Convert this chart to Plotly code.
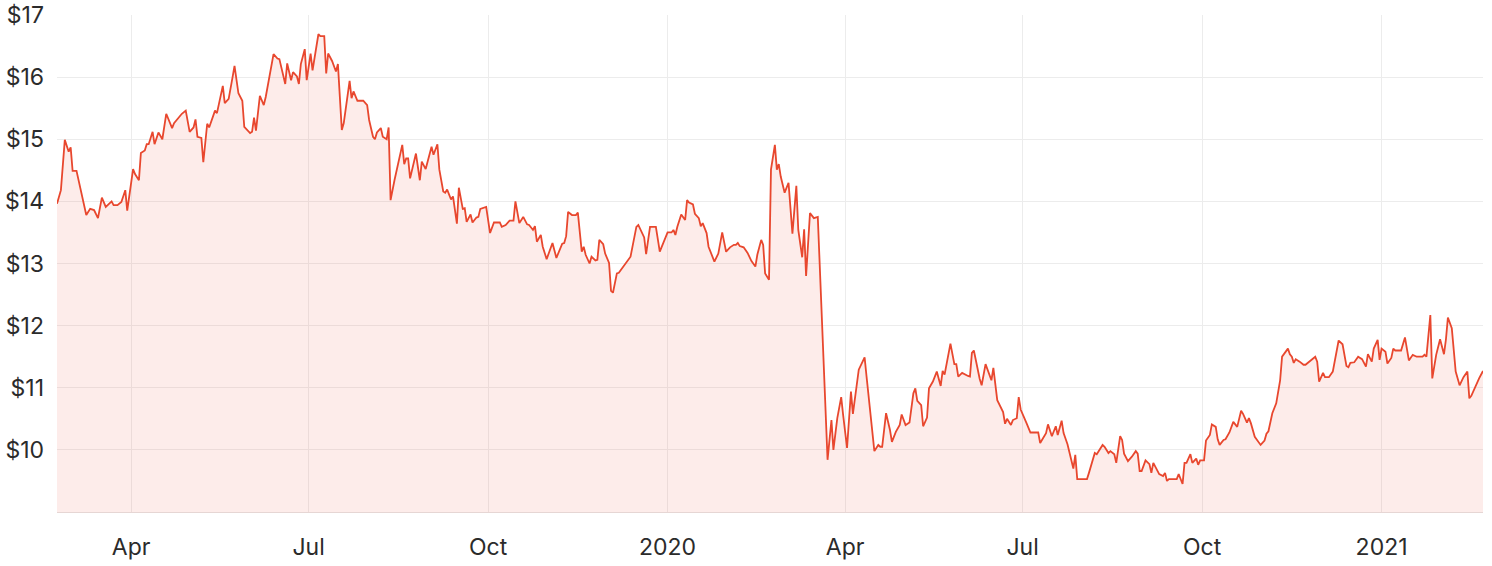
import plotly.graph_objects as go

dates = [
    "2019-02-22","2019-02-24","2019-02-26","2019-02-28","2019-03-01","2019-03-02","2019-03-04","2019-03-09","2019-03-11","2019-03-13",
    "2019-03-15","2019-03-17","2019-03-19","2019-03-22","2019-03-23","2019-03-25","2019-03-27","2019-03-29","2019-03-30","2019-04-02",
    "2019-04-03","2019-04-05","2019-04-06","2019-04-08","2019-04-09","2019-04-10","2019-04-12","2019-04-13","2019-04-15","2019-04-17",
    "2019-04-19","2019-04-22","2019-04-23","2019-04-27","2019-04-29","2019-05-01","2019-05-03","2019-05-04","2019-05-05","2019-05-07",
    "2019-05-08","2019-05-10","2019-05-11","2019-05-14","2019-05-15","2019-05-18","2019-05-19","2019-05-21","2019-05-23","2019-05-24",
    "2019-05-26","2019-05-28","2019-05-29","2019-06-01","2019-06-02","2019-06-03","2019-06-04","2019-06-06","2019-06-08","2019-06-09",
    "2019-06-13","2019-06-15","2019-06-16","2019-06-19","2019-06-20","2019-06-22","2019-06-23","2019-06-25","2019-06-26","2019-06-27",
    "2019-06-29","2019-06-30","2019-07-02","2019-07-03","2019-07-06","2019-07-07","2019-07-09","2019-07-10","2019-07-11","2019-07-13",
    "2019-07-15","2019-07-16","2019-07-18","2019-07-19","2019-07-22","2019-07-23","2019-07-24","2019-07-26","2019-07-29","2019-07-31",
    "2019-08-01","2019-08-03","2019-08-04","2019-08-05","2019-08-07","2019-08-08","2019-08-10","2019-08-11","2019-08-12","2019-08-14",
    "2019-08-18","2019-08-19","2019-08-20","2019-08-21","2019-08-22","2019-08-25","2019-08-27","2019-08-28","2019-08-30","2019-09-02",
    "2019-09-03","2019-09-05","2019-09-06","2019-09-08","2019-09-09","2019-09-10","2019-09-12","2019-09-13","2019-09-15","2019-09-16",
    "2019-09-18","2019-09-19","2019-09-20","2019-09-22","2019-09-23","2019-09-25","2019-09-26","2019-09-27","2019-09-30","2019-10-01",
    "2019-10-02","2019-10-04","2019-10-07","2019-10-08","2019-10-10","2019-10-12","2019-10-14","2019-10-15","2019-10-17","2019-10-19",
    "2019-10-21","2019-10-22","2019-10-24","2019-10-25","2019-10-26","2019-10-28","2019-10-29","2019-10-31","2019-11-03","2019-11-05",
    "2019-11-08","2019-11-09","2019-11-10","2019-11-11","2019-11-13","2019-11-15","2019-11-16","2019-11-18","2019-11-19","2019-11-20",
    "2019-11-22","2019-11-23","2019-11-25","2019-11-26","2019-11-27","2019-11-29","2019-11-30","2019-12-02","2019-12-03","2019-12-04",
    "2019-12-06","2019-12-07","2019-12-10","2019-12-13","2019-12-16","2019-12-17","2019-12-20","2019-12-21","2019-12-23","2019-12-26",
    "2019-12-28","2019-12-31","2020-01-01","2020-01-03","2020-01-04","2020-01-05","2020-01-06","2020-01-08","2020-01-10","2020-01-11",
    "2020-01-12","2020-01-14","2020-01-15","2020-01-17","2020-01-18","2020-01-19","2020-01-21","2020-01-22","2020-01-25","2020-01-27",
    "2020-01-29","2020-01-31","2020-02-02","2020-02-04","2020-02-05","2020-02-06","2020-02-07","2020-02-09","2020-02-11","2020-02-13",
    "2020-02-15","2020-02-16","2020-02-18","2020-02-19","2020-02-20","2020-02-22","2020-02-23","2020-02-25","2020-02-26","2020-02-27",
    "2020-02-28","2020-03-01","2020-03-03","2020-03-05","2020-03-07","2020-03-08","2020-03-10","2020-03-11","2020-03-12","2020-03-14",
    "2020-03-16","2020-03-18","2020-03-19","2020-03-20","2020-03-23","2020-03-25","2020-03-26","2020-03-28","2020-03-30","2020-03-31",
    "2020-04-02","2020-04-04","2020-04-05","2020-04-08","2020-04-11","2020-04-12","2020-04-16","2020-04-18","2020-04-19","2020-04-20",
    "2020-04-22","2020-04-24","2020-04-25","2020-04-27","2020-04-29","2020-04-30","2020-05-02","2020-05-04","2020-05-06","2020-05-07",
    "2020-05-08","2020-05-10","2020-05-11","2020-05-13","2020-05-14","2020-05-16","2020-05-18","2020-05-20","2020-05-21","2020-05-22",
    "2020-05-24","2020-05-25","2020-05-27","2020-05-28","2020-05-29","2020-05-31","2020-06-03","2020-06-04","2020-06-05","2020-06-06",
    "2020-06-09","2020-06-10","2020-06-12","2020-06-13","2020-06-15","2020-06-16","2020-06-18","2020-06-21","2020-06-22","2020-06-23",
    "2020-06-25","2020-06-26","2020-06-28","2020-06-29","2020-06-30","2020-07-03","2020-07-05","2020-07-09","2020-07-10","2020-07-13",
    "2020-07-14","2020-07-16","2020-07-18","2020-07-19","2020-07-21","2020-07-22","2020-07-24","2020-07-27","2020-07-28","2020-07-29",
    "2020-08-03","2020-08-04","2020-08-06","2020-08-07","2020-08-08","2020-08-11","2020-08-12","2020-08-14","2020-08-15","2020-08-17",
    "2020-08-18","2020-08-20","2020-08-21","2020-08-22","2020-08-24","2020-08-26","2020-08-28","2020-08-29","2020-08-30","2020-08-31",
    "2020-09-02","2020-09-04","2020-09-05","2020-09-06","2020-09-09","2020-09-11","2020-09-12","2020-09-13","2020-09-14","2020-09-18",
    "2020-09-19","2020-09-21","2020-09-22","2020-09-23","2020-09-25","2020-09-26","2020-09-28","2020-09-29","2020-09-30","2020-10-02",
    "2020-10-03","2020-10-05","2020-10-06","2020-10-08","2020-10-09","2020-10-10","2020-10-12","2020-10-13","2020-10-15","2020-10-17",
    "2020-10-19","2020-10-21","2020-10-22","2020-10-24","2020-10-25","2020-10-26","2020-10-28","2020-10-31","2020-11-02","2020-11-03",
    "2020-11-04","2020-11-06","2020-11-08","2020-11-09","2020-11-10","2020-11-11","2020-11-14","2020-11-15","2020-11-16","2020-11-17",
    "2020-11-18","2020-11-20","2020-11-22","2020-11-23","2020-11-26","2020-11-28","2020-11-29","2020-11-30","2020-12-02","2020-12-03",
    "2020-12-05","2020-12-07","2020-12-10","2020-12-12","2020-12-14","2020-12-15","2020-12-16","2020-12-18","2020-12-20","2020-12-22",
    "2020-12-24","2020-12-25","2020-12-27","2020-12-28","2020-12-30","2020-12-31","2021-01-01","2021-01-03","2021-01-04","2021-01-06",
    "2021-01-07","2021-01-08","2021-01-11","2021-01-13","2021-01-15","2021-01-17","2021-01-19","2021-01-22","2021-01-23","2021-01-24",
    "2021-01-26","2021-01-27","2021-01-29","2021-01-31","2021-02-02","2021-02-03","2021-02-04","2021-02-06","2021-02-08","2021-02-10",
    "2021-02-12","2021-02-14","2021-02-15","2021-02-16","2021-02-20","2021-02-22",
]

prices = [
    13.96,14.18,14.99,14.80,14.87,14.49,14.49,13.78,13.88,13.86,
    13.73,14.06,13.91,14.00,13.94,13.94,13.99,14.18,13.85,14.52,
    14.44,14.34,14.78,14.82,14.92,14.92,15.12,14.92,15.11,15.00,
    15.41,15.18,15.26,15.41,15.46,15.12,15.19,15.32,15.04,15.02,
    14.63,15.25,15.19,15.46,15.42,15.86,15.58,15.65,16.00,16.18,
    15.74,15.62,15.20,15.10,15.12,15.35,15.14,15.70,15.55,15.68,
    16.37,16.30,16.29,15.89,16.22,15.95,16.08,16.01,15.89,16.21,
    16.45,15.95,16.38,16.11,16.69,16.66,16.66,16.06,16.38,16.26,
    16.09,16.21,15.15,15.26,15.94,15.66,15.77,15.62,15.62,15.55,
    15.31,15.04,15.00,15.11,15.18,15.04,15.00,15.19,14.02,14.34,
    14.91,14.60,14.69,14.69,14.37,14.77,14.34,14.64,14.52,14.88,
    14.75,14.92,14.51,14.16,14.14,14.19,14.03,14.08,13.64,14.22,
    13.88,13.89,13.67,13.79,13.66,13.74,13.75,13.88,13.91,13.66,
    13.49,13.66,13.66,13.59,13.62,13.69,13.69,14.00,13.65,13.75,
    13.63,13.62,13.54,13.60,13.35,13.46,13.27,13.07,13.33,13.09,
    13.32,13.33,13.44,13.83,13.78,13.78,13.82,13.19,13.27,13.14,
    13.00,13.11,13.05,13.06,13.38,13.31,13.16,13.01,12.56,12.53,
    12.84,12.85,12.99,13.11,13.59,13.62,13.42,13.15,13.59,13.59,
    13.19,13.43,13.50,13.50,13.54,13.46,13.59,13.79,13.70,14.02,
    13.98,13.95,13.80,13.73,13.60,13.65,13.49,13.27,13.03,13.16,
    13.50,13.19,13.26,13.30,13.30,13.33,13.28,13.26,13.17,13.04,
    12.95,13.14,13.38,13.30,12.84,12.74,14.51,14.91,14.51,14.60,
    14.40,14.14,14.30,13.48,14.25,13.54,13.10,13.55,12.80,13.81,
    13.73,13.75,12.95,12.30,9.84,10.48,10.00,10.51,10.85,10.56,
    10.03,10.94,10.58,11.29,11.49,11.18,9.98,10.08,10.05,10.05,
    10.59,10.32,10.13,10.29,10.40,10.57,10.40,10.44,10.91,10.99,
    10.79,10.72,10.38,10.52,10.99,11.10,11.26,11.03,11.27,11.21,
    11.58,11.71,11.38,11.38,11.18,11.24,11.19,11.18,11.56,11.60,
    11.14,11.04,11.38,11.30,11.12,11.32,10.80,10.61,10.42,10.50,
    10.40,10.48,10.51,10.85,10.65,10.43,10.28,10.28,10.11,10.27,
    10.41,10.22,10.38,10.24,10.47,10.27,10.09,9.70,9.92,9.53,
    9.53,9.63,9.83,9.95,9.93,10.08,10.05,9.95,9.98,9.93,
    9.79,10.22,10.16,9.94,9.82,9.89,9.98,9.94,9.66,9.66,
    9.83,9.77,9.63,9.79,9.61,9.58,9.63,9.50,9.53,9.53,
    9.61,9.45,9.79,9.79,9.93,9.79,9.86,9.76,9.83,9.83,
    10.15,10.24,10.41,10.37,10.17,10.08,10.16,10.17,10.28,10.45,
    10.37,10.63,10.58,10.44,10.51,10.43,10.21,10.08,10.15,10.26,
    10.30,10.59,10.75,10.96,11.12,11.50,11.63,11.54,11.50,11.40,
    11.46,11.42,11.37,11.37,11.45,11.50,11.42,11.10,11.24,11.17,
    11.17,11.26,11.76,11.70,11.35,11.33,11.40,11.41,11.50,11.46,
    11.34,11.54,11.42,11.63,11.77,11.45,11.63,11.58,11.39,11.48,
    11.63,11.60,11.60,11.81,11.44,11.53,11.50,11.50,11.53,11.50,
    12.17,11.15,11.53,11.78,11.54,11.78,12.13,11.96,11.26,11.04,
    11.17,11.26,10.83,10.87,11.15,11.27,
]

tick_dates = ["2019-04-01", "2019-07-01", "2019-10-01", "2020-01-01",
              "2020-04-01", "2020-07-01", "2020-10-01", "2021-01-01"]
tick_labels = ["Apr", "Jul", "Oct", "2020", "Apr", "Jul", "Oct", "2021"]
price_ticks = [10, 11, 12, 13, 14, 15, 16, 17]
price_labels = ["$10", "$11", "$12", "$13", "$14", "$15", "$16", "$17"]

LINE = "#E8472E"
FONT = "Inter, 'Open Sans', sans-serif"

fig = go.Figure()
fig.add_trace(go.Scatter(
    x=dates, y=prices, mode="lines",
    line=dict(color=LINE, width=1.8),
    fill="tozeroy", fillcolor="rgba(232,71,46,0.10)",
    hoverinfo="skip", showlegend=False,
))

fig.update_layout(
    width=1492, height=566,
    margin=dict(l=57, r=9, t=15, b=54),
    paper_bgcolor="white", plot_bgcolor="white",
    font=dict(family=FONT, size=22, color="#2b2b2b"),
    xaxis=dict(
        type="date", range=["2019-02-22", "2021-02-22"],
        tickvals=tick_dates, ticktext=tick_labels,
        showgrid=True, gridcolor="#ececec", gridwidth=1,
        showline=True, linecolor="#e6d6d4", linewidth=1,
        ticks="", ticklabelstandoff=14, zeroline=False,
        tickfont=dict(size=23), automargin=False,
    ),
    yaxis=dict(
        range=[9, 17], tickvals=price_ticks, ticktext=price_labels,
        showgrid=True, gridcolor="#ececec", gridwidth=1,
        showline=False, zeroline=False, ticks="",
        ticklabelstandoff=12, tickfont=dict(size=23), automargin=False,
    ),
)

fig.write_html("out.html", config={"displayModeBar": False},
               post_script="document.body.style.margin='0';")
